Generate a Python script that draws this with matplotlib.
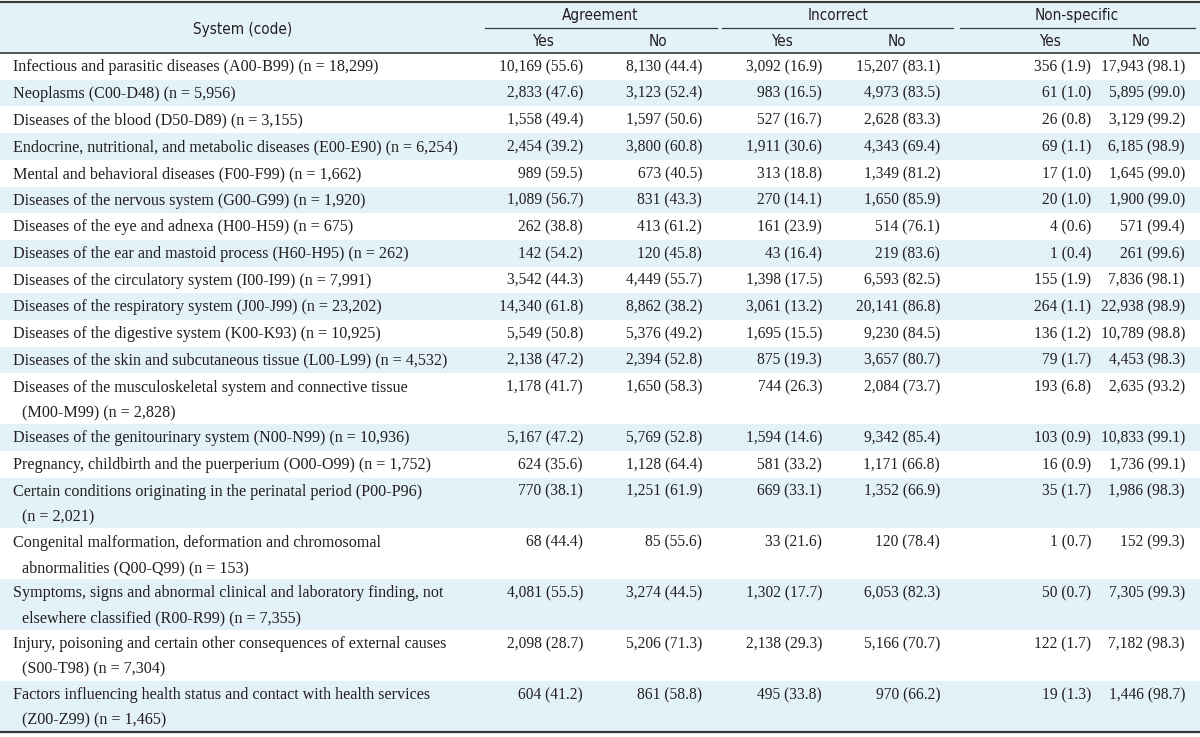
import matplotlib
matplotlib.use("Agg")
from matplotlib import pyplot as plt
from matplotlib.patches import Rectangle

# ---- table content ----
systems = [
    "Infectious and parasitic diseases (A00-B99) (n = 18,299)",
    "Neoplasms (C00-D48) (n = 5,956)",
    "Diseases of the blood (D50-D89) (n = 3,155)",
    "Endocrine, nutritional, and metabolic diseases (E00-E90) (n = 6,254)",
    "Mental and behavioral diseases (F00-F99) (n = 1,662)",
    "Diseases of the nervous system (G00-G99) (n = 1,920)",
    "Diseases of the eye and adnexa (H00-H59) (n = 675)",
    "Diseases of the ear and mastoid process (H60-H95) (n = 262)",
    "Diseases of the circulatory system (I00-I99) (n = 7,991)",
    "Diseases of the respiratory system (J00-J99) (n = 23,202)",
    "Diseases of the digestive system (K00-K93) (n = 10,925)",
    "Diseases of the skin and subcutaneous tissue (L00-L99) (n = 4,532)",
    "Diseases of the musculoskeletal system and connective tissue\n(M00-M99) (n = 2,828)",
    "Diseases of the genitourinary system (N00-N99) (n = 10,936)",
    "Pregnancy, childbirth and the puerperium (O00-O99) (n = 1,752)",
    "Certain conditions originating in the perinatal period (P00-P96)\n(n = 2,021)",
    "Congenital malformation, deformation and chromosomal\nabnormalities (Q00-Q99) (n = 153)",
    "Symptoms, signs and abnormal clinical and laboratory finding, not\nelsewhere classified (R00-R99) (n = 7,355)",
    "Injury, poisoning and certain other consequences of external causes\n(S00-T98) (n = 7,304)",
    "Factors influencing health status and contact with health services\n(Z00-Z99) (n = 1,465)",
]

agree_yes = [10169, 2833, 1558, 2454, 989, 1089, 262, 142, 3542, 14340, 5549, 2138, 1178, 5167, 624, 770, 68, 4081, 2098, 604]
agree_yes_pct = [55.6, 47.6, 49.4, 39.2, 59.5, 56.7, 38.8, 54.2, 44.3, 61.8, 50.8, 47.2, 41.7, 47.2, 35.6, 38.1, 44.4, 55.5, 28.7, 41.2]
agree_no = [8130, 3123, 1597, 3800, 673, 831, 413, 120, 4449, 8862, 5376, 2394, 1650, 5769, 1128, 1251, 85, 3274, 5206, 861]
agree_no_pct = [44.4, 52.4, 50.6, 60.8, 40.5, 43.3, 61.2, 45.8, 55.7, 38.2, 49.2, 52.8, 58.3, 52.8, 64.4, 61.9, 55.6, 44.5, 71.3, 58.8]
incorrect_yes = [3092, 983, 527, 1911, 313, 270, 161, 43, 1398, 3061, 1695, 875, 744, 1594, 581, 669, 33, 1302, 2138, 495]
incorrect_yes_pct = [16.9, 16.5, 16.7, 30.6, 18.8, 14.1, 23.9, 16.4, 17.5, 13.2, 15.5, 19.3, 26.3, 14.6, 33.2, 33.1, 21.6, 17.7, 29.3, 33.8]
incorrect_no = [15207, 4973, 2628, 4343, 1349, 1650, 514, 219, 6593, 20141, 9230, 3657, 2084, 9342, 1171, 1352, 120, 6053, 5166, 970]
incorrect_no_pct = [83.1, 83.5, 83.3, 69.4, 81.2, 85.9, 76.1, 83.6, 82.5, 86.8, 84.5, 80.7, 73.7, 85.4, 66.8, 66.9, 78.4, 82.3, 70.7, 66.2]
nonspec_yes = [356, 61, 26, 69, 17, 20, 4, 1, 155, 264, 136, 79, 193, 103, 16, 35, 1, 50, 122, 19]
nonspec_yes_pct = [1.9, 1.0, 0.8, 1.1, 1.0, 1.0, 0.6, 0.4, 1.9, 1.1, 1.2, 1.7, 6.8, 0.9, 0.9, 1.7, 0.7, 0.7, 1.7, 1.3]
nonspec_no = [17943, 5895, 3129, 6185, 1645, 1900, 571, 261, 7836, 22938, 10789, 4453, 2635, 10833, 1736, 1986, 152, 7305, 7182, 1446]
nonspec_no_pct = [98.1, 99.0, 99.2, 98.9, 99.0, 99.0, 99.4, 99.6, 98.1, 98.9, 98.8, 98.3, 93.2, 99.1, 99.1, 98.3, 99.3, 99.3, 98.3, 98.7]

groups = ["Agreement", "Incorrect", "Non-specific"]
sub_labels = ["Yes", "No", "Yes", "No", "Yes", "No"]
first_header = "System (code)"

columns = [
    (agree_yes, agree_yes_pct), (agree_no, agree_no_pct),
    (incorrect_yes, incorrect_yes_pct), (incorrect_no, incorrect_no_pct),
    (nonspec_yes, nonspec_yes_pct), (nonspec_no, nonspec_no_pct),
]

# ---- layout (pixel units) ----
W, H = 1200, 737
band = "#e3f1f8"
ink = "#231f20"
serif = ["Liberation Serif", "DejaVu Serif"]
fs_label = 11.6
fs_num = 11.2
fs_head = 11.0
head_font = dict(family="DejaVu Sans", stretch="condensed", fontsize=fs_head, color=ink)

head_top, group_line_y, head_bottom = 2, 28, 53
single_h, double_h = 26.7, 50.8
line_gap = 25.5
col_right = [583, 702, 822, 940, 1091, 1185]
sub_center = [543, 658, 782, 897, 1050, 1141]
group_center = [600, 838, 1077]
group_span = [(485, 717), (722, 953), (960, 1195)]
label_x, label_indent = 13, 22

fig = plt.figure(figsize=(W / 100, H / 100), dpi=100)
ax = fig.add_axes([0, 0, 1, 1])
ax.set_xlim(0, W)
ax.set_ylim(H, 0)
ax.axis("off")

# header
ax.add_patch(Rectangle((0, head_top), W, head_bottom - head_top, color=band, lw=0))
ax.text(243, 29, first_header, ha="center", va="center", **head_font)
for name, cx, (x0, x1) in zip(groups, group_center, group_span):
    ax.text(cx, 15, name, ha="center", va="center", **head_font)
    ax.plot([x0, x1], [group_line_y, group_line_y], color="#3a3a3a", lw=0.9)
for lab, cx in zip(sub_labels, sub_center):
    ax.text(cx, 41, lab, ha="center", va="center", **head_font)

# body
y = head_bottom
for i, label in enumerate(systems):
    lines = label.split("\n")
    h = single_h if len(lines) == 1 else double_h
    if i % 2 == 1:
        ax.add_patch(Rectangle((0, y), W, h, color=band, lw=0))
    first_y = y + single_h / 2 + 0.8
    for j, ln in enumerate(lines):
        ax.text(label_x if j == 0 else label_indent, first_y + j * line_gap, ln,
                ha="left", va="center", family=serif, fontsize=fs_label, color=ink)
    for (counts, pcts), xr in zip(columns, col_right):
        ax.text(xr, first_y, f"{counts[i]:,} ({pcts[i]:.1f})", ha="right", va="center",
                family=serif, fontsize=fs_num, color=ink)
    y += h

# rules
ax.plot([0, W], [head_top, head_top], color="#3a3a3a", lw=1.6)
ax.plot([0, W], [head_bottom, head_bottom], color="#3a3a3a", lw=1.2)
ax.plot([0, W], [y, y], color="#3a3a3a", lw=1.6)

fig.savefig("out.png", dpi=100)
